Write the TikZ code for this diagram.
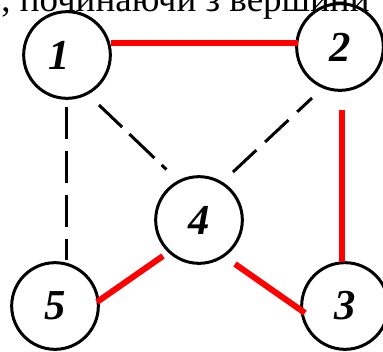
\documentclass[tikz,border=0pt]{standalone}
\usepackage{fontspec}
\setmainfont{Liberation Serif}
\usetikzlibrary{calc}
\begin{document}
\begin{tikzpicture}[x=0.75pt,y=-0.75pt,
  vertex/.style={circle,draw=black,line width=2.25pt,minimum size=65pt,inner sep=0pt,
    font=\fontsize{32}{32}\selectfont\bfseries\itshape},
  redge/.style={draw=red,line width=4.5pt},
  dedge/.style={draw=black,line width=2.25pt,dash pattern=on 24pt off 9pt},
  ddedge/.style={draw=black,line width=2.25pt,dash pattern=on 24pt off 7.5pt on 26pt off 7.5pt on 5pt off 60pt}]
\useasboundingbox (0,0) rectangle (383,351);
\node[anchor=base west,inner sep=0pt,font=\fontsize{27.75}{30}\selectfont] (cap) at (1,11) {, починаючи з вершини};
\node[vertex] (n1) at (67,55) {1\kern12pt};
\node[vertex] (n2) at (340,47) {2};
\node[vertex] (n3) at (345,306) {3};
\node[vertex] (n4) at (199,220) {4};
\node[vertex] (n5) at (55,306) {5};
% red edges
\draw[redge] ($(n1.center)+(44,-12)$) -- ($(n2.center)+(-42,-4)$);
\draw[redge] ($(n2.center)+(2,63)$) -- ($(n3.center)+(-3,-44)$);
\draw[redge] ($(n4.center)+(-36,36)$) -- ($(n5.center)+(42,-4)$);
\draw[redge] ($(n4.center)+(36,44)$) -- ($(n3.center)+(-40,7)$);
% dashed edges
\draw[dedge] ($(n1.center)+(-1,52)$) -- ($(n5.center)+(11,-46)$);
\draw[dedge] ($(n4.center)+(34,-48)$) -- ($(n2.center)+(-28,51)$);
\draw[ddedge] ($(n1.center)+(32,50)$) -- ($(n4.center)+(-31,-49)$);
\end{tikzpicture}
\end{document}
